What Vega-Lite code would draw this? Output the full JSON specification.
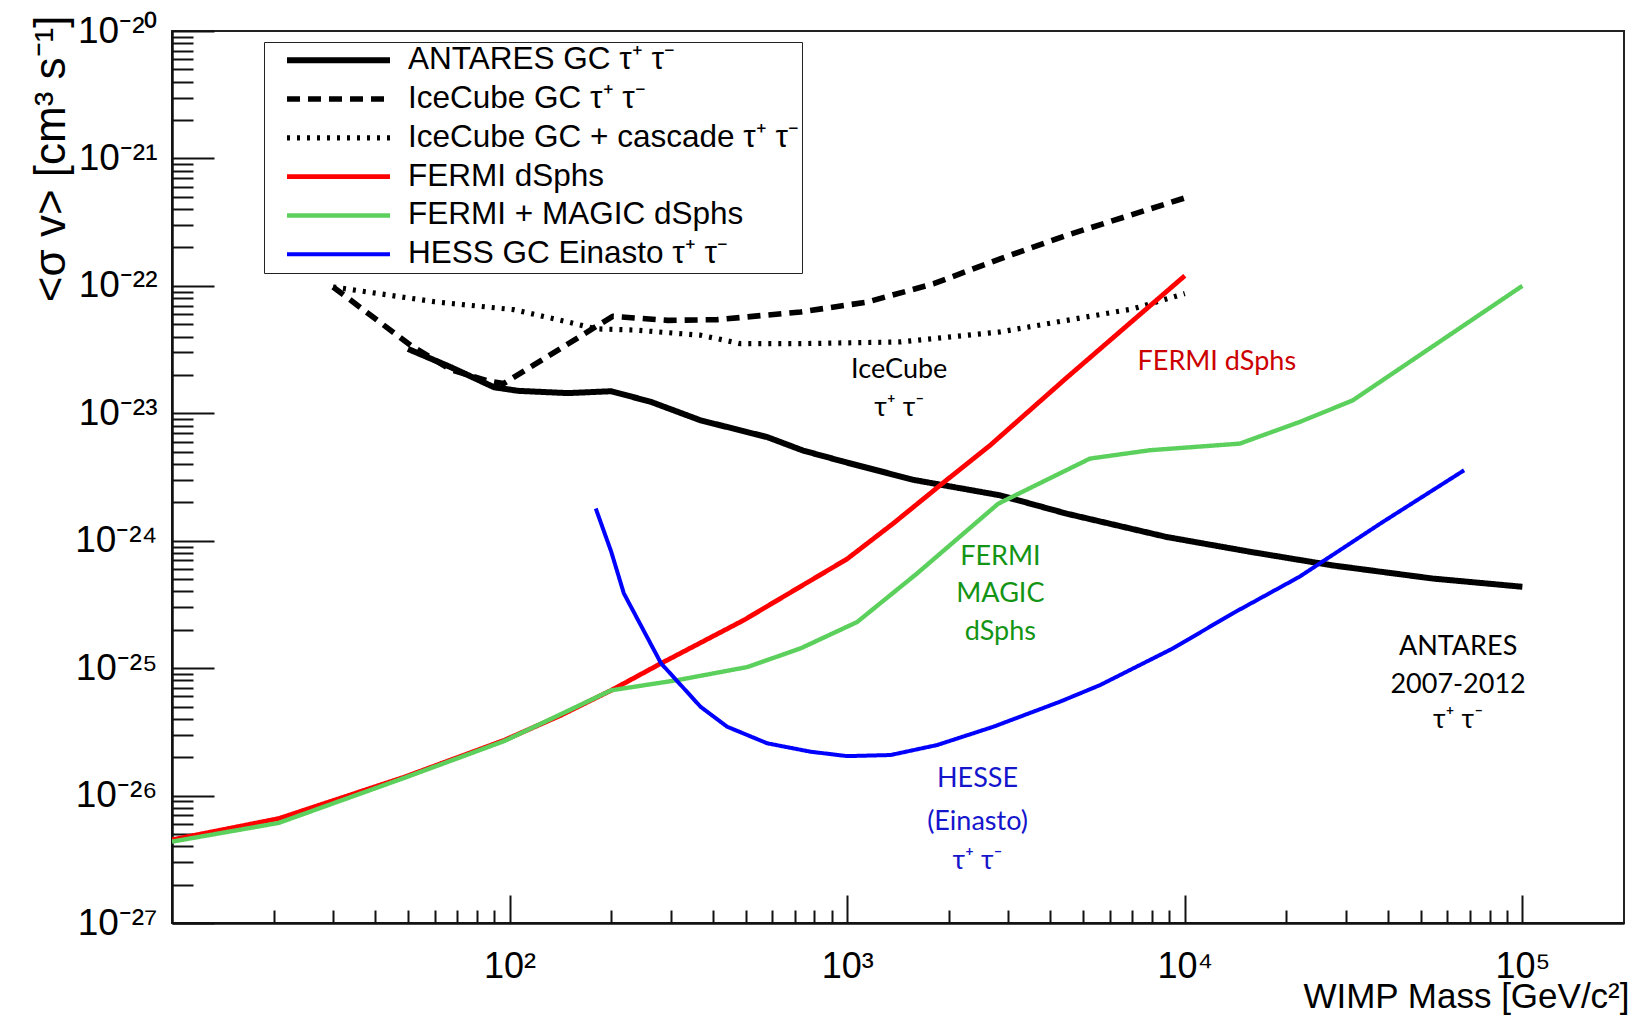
{
  "$schema": "https://vega.github.io/schema/vega-lite/v6.json",
  "width": 1452,
  "height": 892,
  "autosize": {"type": "none"},
  "padding": {"left": 172, "top": 31, "right": 10, "bottom": 92},
  "background": "white",
  "config": {
    "view": {"stroke": "#222", "strokeWidth": 2},
    "axis": {
      "domainColor": "#111", "domainWidth": 2.5, "tickColor": "#111", "tickWidth": 2,
      "labelFont": "Liberation Sans", "labelColor": "black",
      "titleFont": "Liberation Sans", "titleColor": "black", "titleFontWeight": "normal",
      "grid": false, "labelOverlap": false, "labelFlush": false
    },
    "legend": {
      "title": null, "orient": "none", "legendX": 92, "legendY": 11,
      "symbolType": "stroke", "symbolSize": 10609, "clipHeight": 31.5,
      "rowPadding": 5.8, "padding": 2.5, "symbolOffset": 17.5, "labelOffset": 15,
      "labelFont": "Liberation Sans", "labelFontSize": 31.5, "labelColor": "black", "labelLimit": 800,
      "strokeColor": "#222", "fillColor": "white"
    }
  },
  "datasets": {
    "curves": [
      {"series": "ANTARES GC τ⁺ τ⁻", "mass": 50, "sigmav": 3.2e-23},
      {"series": "ANTARES GC τ⁺ τ⁻", "mass": 67, "sigmav": 2.3e-23},
      {"series": "ANTARES GC τ⁺ τ⁻", "mass": 90, "sigmav": 1.6e-23},
      {"series": "ANTARES GC τ⁺ τ⁻", "mass": 106, "sigmav": 1.5e-23},
      {"series": "ANTARES GC τ⁺ τ⁻", "mass": 149, "sigmav": 1.44e-23},
      {"series": "ANTARES GC τ⁺ τ⁻", "mass": 200, "sigmav": 1.49e-23},
      {"series": "ANTARES GC τ⁺ τ⁻", "mass": 262, "sigmav": 1.23e-23},
      {"series": "ANTARES GC τ⁺ τ⁻", "mass": 368, "sigmav": 8.8e-24},
      {"series": "ANTARES GC τ⁺ τ⁻", "mass": 580, "sigmav": 6.5e-24},
      {"series": "ANTARES GC τ⁺ τ⁻", "mass": 740, "sigmav": 5.1e-24},
      {"series": "ANTARES GC τ⁺ τ⁻", "mass": 1000, "sigmav": 4.1e-24},
      {"series": "ANTARES GC τ⁺ τ⁻", "mass": 1575, "sigmav": 3.0e-24},
      {"series": "ANTARES GC τ⁺ τ⁻", "mass": 2838, "sigmav": 2.27e-24},
      {"series": "ANTARES GC τ⁺ τ⁻", "mass": 4470, "sigmav": 1.63e-24},
      {"series": "ANTARES GC τ⁺ τ⁻", "mass": 8830, "sigmav": 1.07e-24},
      {"series": "ANTARES GC τ⁺ τ⁻", "mass": 15560, "sigmav": 8.2e-25},
      {"series": "ANTARES GC τ⁺ τ⁻", "mass": 27430, "sigmav": 6.4e-25},
      {"series": "ANTARES GC τ⁺ τ⁻", "mass": 54200, "sigmav": 5.05e-25},
      {"series": "ANTARES GC τ⁺ τ⁻", "mass": 100000, "sigmav": 4.35e-25},

      {"series": "IceCube GC τ⁺ τ⁻", "mass": 30, "sigmav": 9.8e-23},
      {"series": "IceCube GC τ⁺ τ⁻", "mass": 51, "sigmav": 3.4e-23},
      {"series": "IceCube GC τ⁺ τ⁻", "mass": 67, "sigmav": 2.2e-23},
      {"series": "IceCube GC τ⁺ τ⁻", "mass": 86, "sigmav": 1.8e-23},
      {"series": "IceCube GC τ⁺ τ⁻", "mass": 96, "sigmav": 1.71e-23},
      {"series": "IceCube GC τ⁺ τ⁻", "mass": 202, "sigmav": 5.77e-23},
      {"series": "IceCube GC τ⁺ τ⁻", "mass": 294, "sigmav": 5.36e-23},
      {"series": "IceCube GC τ⁺ τ⁻", "mass": 412, "sigmav": 5.43e-23},
      {"series": "IceCube GC τ⁺ τ⁻", "mass": 728, "sigmav": 6.24e-23},
      {"series": "IceCube GC τ⁺ τ⁻", "mass": 1146, "sigmav": 7.46e-23},
      {"series": "IceCube GC τ⁺ τ⁻", "mass": 1804, "sigmav": 1.04e-22},
      {"series": "IceCube GC τ⁺ τ⁻", "mass": 2838, "sigmav": 1.63e-22},
      {"series": "IceCube GC τ⁺ τ⁻", "mass": 4467, "sigmav": 2.49e-22},
      {"series": "IceCube GC τ⁺ τ⁻", "mass": 10000, "sigmav": 4.9e-22},

      {"series": "IceCube GC + cascade τ⁺ τ⁻", "mass": 30, "sigmav": 9.8e-23},
      {"series": "IceCube GC + cascade τ⁺ τ⁻", "mass": 60, "sigmav": 7.5e-23},
      {"series": "IceCube GC + cascade τ⁺ τ⁻", "mass": 103, "sigmav": 6.5e-23},
      {"series": "IceCube GC + cascade τ⁺ τ⁻", "mass": 149, "sigmav": 5.2e-23},
      {"series": "IceCube GC + cascade τ⁺ τ⁻", "mass": 180, "sigmav": 4.6e-23},
      {"series": "IceCube GC + cascade τ⁺ τ⁻", "mass": 234, "sigmav": 4.5e-23},
      {"series": "IceCube GC + cascade τ⁺ τ⁻", "mass": 368, "sigmav": 4.1e-23},
      {"series": "IceCube GC + cascade τ⁺ τ⁻", "mass": 483, "sigmav": 3.52e-23},
      {"series": "IceCube GC + cascade τ⁺ τ⁻", "mass": 728, "sigmav": 3.52e-23},
      {"series": "IceCube GC + cascade τ⁺ τ⁻", "mass": 1436, "sigmav": 3.63e-23},
      {"series": "IceCube GC + cascade τ⁺ τ⁻", "mass": 2838, "sigmav": 4.35e-23},
      {"series": "IceCube GC + cascade τ⁺ τ⁻", "mass": 4467, "sigmav": 5.36e-23},
      {"series": "IceCube GC + cascade τ⁺ τ⁻", "mass": 7031, "sigmav": 6.6e-23},
      {"series": "IceCube GC + cascade τ⁺ τ⁻", "mass": 10000, "sigmav": 8.7e-23},

      {"series": "FERMI dSphs", "mass": 10, "sigmav": 4.5e-27},
      {"series": "FERMI dSphs", "mass": 20.7, "sigmav": 6.6e-27},
      {"series": "FERMI dSphs", "mass": 48.9, "sigmav": 1.4e-26},
      {"series": "FERMI dSphs", "mass": 96.5, "sigmav": 2.72e-26},
      {"series": "FERMI dSphs", "mass": 142, "sigmav": 4.27e-26},
      {"series": "FERMI dSphs", "mass": 200, "sigmav": 6.7e-26},
      {"series": "FERMI dSphs", "mass": 281, "sigmav": 1.09e-25},
      {"series": "FERMI dSphs", "mass": 494, "sigmav": 2.38e-25},
      {"series": "FERMI dSphs", "mass": 1000, "sigmav": 7.2e-25},
      {"series": "FERMI dSphs", "mass": 1371, "sigmav": 1.37e-24},
      {"series": "FERMI dSphs", "mass": 1972, "sigmav": 3.0e-24},
      {"series": "FERMI dSphs", "mass": 2650, "sigmav": 5.6e-24},
      {"series": "FERMI dSphs", "mass": 4467, "sigmav": 1.9e-23},
      {"series": "FERMI dSphs", "mass": 10000, "sigmav": 1.2e-22},

      {"series": "FERMI + MAGIC dSphs", "mass": 10, "sigmav": 4.35e-27},
      {"series": "FERMI + MAGIC dSphs", "mass": 20.7, "sigmav": 6.1e-27},
      {"series": "FERMI + MAGIC dSphs", "mass": 48.9, "sigmav": 1.38e-26},
      {"series": "FERMI + MAGIC dSphs", "mass": 96.5, "sigmav": 2.68e-26},
      {"series": "FERMI + MAGIC dSphs", "mass": 200, "sigmav": 6.7e-26},
      {"series": "FERMI + MAGIC dSphs", "mass": 314, "sigmav": 8.05e-26},
      {"series": "FERMI + MAGIC dSphs", "mass": 506, "sigmav": 1.02e-25},
      {"series": "FERMI + MAGIC dSphs", "mass": 728, "sigmav": 1.43e-25},
      {"series": "FERMI + MAGIC dSphs", "mass": 1070, "sigmav": 2.3e-25},
      {"series": "FERMI + MAGIC dSphs", "mass": 1610, "sigmav": 5.53e-25},
      {"series": "FERMI + MAGIC dSphs", "mass": 2800, "sigmav": 1.95e-24},
      {"series": "FERMI + MAGIC dSphs", "mass": 5236, "sigmav": 4.41e-24},
      {"series": "FERMI + MAGIC dSphs", "mass": 7880, "sigmav": 5.13e-24},
      {"series": "FERMI + MAGIC dSphs", "mass": 14550, "sigmav": 5.78e-24},
      {"series": "FERMI + MAGIC dSphs", "mass": 21900, "sigmav": 8.55e-24},
      {"series": "FERMI + MAGIC dSphs", "mass": 31400, "sigmav": 1.26e-23},
      {"series": "FERMI + MAGIC dSphs", "mass": 100000, "sigmav": 1.0e-22},

      {"series": "HESS GC Einasto τ⁺ τ⁻", "mass": 180, "sigmav": 1.79e-24},
      {"series": "HESS GC Einasto τ⁺ τ⁻", "mass": 200, "sigmav": 8.2e-25},
      {"series": "HESS GC Einasto τ⁺ τ⁻", "mass": 218, "sigmav": 3.86e-25},
      {"series": "HESS GC Einasto τ⁺ τ⁻", "mass": 281, "sigmav": 1.09e-25},
      {"series": "HESS GC Einasto τ⁺ τ⁻", "mass": 368, "sigmav": 4.97e-26},
      {"series": "HESS GC Einasto τ⁺ τ⁻", "mass": 441, "sigmav": 3.47e-26},
      {"series": "HESS GC Einasto τ⁺ τ⁻", "mass": 580, "sigmav": 2.57e-26},
      {"series": "HESS GC Einasto τ⁺ τ⁻", "mass": 778, "sigmav": 2.21e-26},
      {"series": "HESS GC Einasto τ⁺ τ⁻", "mass": 1000, "sigmav": 2.04e-26},
      {"series": "HESS GC Einasto τ⁺ τ⁻", "mass": 1343, "sigmav": 2.08e-26},
      {"series": "HESS GC Einasto τ⁺ τ⁻", "mass": 1845, "sigmav": 2.49e-26},
      {"series": "HESS GC Einasto τ⁺ τ⁻", "mass": 2712, "sigmav": 3.47e-26},
      {"series": "HESS GC Einasto τ⁺ τ⁻", "mass": 4266, "sigmav": 5.45e-26},
      {"series": "HESS GC Einasto τ⁺ τ⁻", "mass": 5610, "sigmav": 7.36e-26},
      {"series": "HESS GC Einasto τ⁺ τ⁻", "mass": 9230, "sigmav": 1.43e-25},
      {"series": "HESS GC Einasto τ⁺ τ⁻", "mass": 13870, "sigmav": 2.69e-25},
      {"series": "HESS GC Einasto τ⁺ τ⁻", "mass": 21830, "sigmav": 5.2e-25},
      {"series": "HESS GC Einasto τ⁺ τ⁻", "mass": 38550, "sigmav": 1.4e-24},
      {"series": "HESS GC Einasto τ⁺ τ⁻", "mass": 67200, "sigmav": 3.57e-24}
    ],
    "notes": [
      {"group": "ice", "label": "IceCube", "mass": 1426, "sigmav": 2.17e-23},
      {"group": "ice", "label": "τ⁺ τ⁻", "mass": 1426, "sigmav": 1.11e-23},
      {"group": "fermi", "label": "FERMI dSphs", "mass": 12440, "sigmav": 2.53e-23},
      {"group": "magic", "label": "FERMI", "mass": 2843, "sigmav": 7.5e-25},
      {"group": "magic", "label": "MAGIC", "mass": 2843, "sigmav": 3.8e-25},
      {"group": "magic", "label": "dSphs", "mass": 2843, "sigmav": 1.93e-25},
      {"group": "hess", "label": "HESSE", "mass": 2432, "sigmav": 1.36e-26},
      {"group": "hess", "label": "(Einasto)", "mass": 2432, "sigmav": 6.18e-27},
      {"group": "hess", "label": "τ⁺ τ⁻", "mass": 2432, "sigmav": 3.08e-27},
      {"group": "antares", "label": "ANTARES", "mass": 64500, "sigmav": 1.47e-25},
      {"group": "antares", "label": "2007-2012", "mass": 64500, "sigmav": 7.36e-26},
      {"group": "antares", "label": "τ⁺ τ⁻", "mass": 64500, "sigmav": 3.91e-26}
    ]
  },
  "layer": [
    {
      "data": {"name": "curves"},
      "mark": {"type": "line", "strokeCap": "butt", "strokeJoin": "round", "clip": true},
      "encoding": {
        "x": {
          "field": "mass", "type": "quantitative",
          "scale": {"type": "log", "domain": [10, 200000], "nice": false},
          "axis": {
            "title": "WIMP Mass [GeV/c²]",
            "values": [20, 30, 40, 50, 60, 70, 80, 90, 100, 200, 300, 400, 500, 600, 700, 800, 900, 1000, 2000, 3000, 4000, 5000, 6000, 7000, 8000, 9000, 10000, 20000, 30000, 40000, 50000, 60000, 70000, 80000, 90000, 100000],
            "tickSize": {"condition": {"test": "abs(log(datum.value)/LN10 - round(log(datum.value)/LN10)) < 0.001", "value": -28}, "value": -13},
            "labelExpr": "abs(log(datum.value)/LN10 - round(log(datum.value)/LN10)) < 0.001 ? ['10²','10³','10⁴','10⁵'][round(log(datum.value)/LN10) - 2] : ''",
            "labelFontSize": 36,
            "labelPadding": 54,
            "labelBaseline": "top",
            "titleFontSize": 35,
            "titleAnchor": "end",
            "titleAlign": "right",
            "titleBaseline": "alphabetic",
            "titleX": 1457,
            "titleY": 84
          }
        },
        "y": {
          "field": "sigmav", "type": "quantitative",
          "scale": {"type": "log", "domain": [1e-27, 1e-20], "nice": false},
          "axis": {
            "title": "<σ v> [cm³ s⁻¹]",
            "values": [1e-27, 2e-27, 3e-27, 4e-27, 5e-27, 6e-27, 7e-27, 8e-27, 9e-27, 1e-26, 2e-26, 3e-26, 4e-26, 5e-26, 6e-26, 7e-26, 8e-26, 9e-26, 1e-25, 2e-25, 3e-25, 4e-25, 5e-25, 6e-25, 7e-25, 8e-25, 9e-25, 1e-24, 2e-24, 3e-24, 4e-24, 5e-24, 6e-24, 7e-24, 8e-24, 9e-24, 1e-23, 2e-23, 3e-23, 4e-23, 5e-23, 6e-23, 7e-23, 8e-23, 9e-23, 1e-22, 2e-22, 3e-22, 4e-22, 5e-22, 6e-22, 7e-22, 8e-22, 9e-22, 1e-21, 2e-21, 3e-21, 4e-21, 5e-21, 6e-21, 7e-21, 8e-21, 9e-21, 1e-20],
            "tickSize": {"condition": {"test": "abs(log(datum.value)/LN10 - round(log(datum.value)/LN10)) < 0.001", "value": -42}, "value": -21},
            "labelExpr": "abs(log(datum.value)/LN10 - round(log(datum.value)/LN10)) < 0.001 ? ['10⁻²⁷','10⁻²⁶','10⁻²⁵','10⁻²⁴','10⁻²³','10⁻²²','10⁻²¹','10⁻²⁰'][round(log(datum.value)/LN10) + 27] : ''",
            "labelFontSize": 37,
            "labelPadding": 57,
            "titleFontSize": 44,
            "titleAngle": -90,
            "titleAnchor": "end",
            "titleAlign": "right",
            "titleBaseline": "alphabetic",
            "titleX": -108,
            "titleY": -16
          }
        },
        "color": {
          "field": "series", "type": "nominal",
          "scale": {
            "domain": ["ANTARES GC τ⁺ τ⁻", "IceCube GC τ⁺ τ⁻", "IceCube GC + cascade τ⁺ τ⁻", "FERMI dSphs", "FERMI + MAGIC dSphs", "HESS GC Einasto τ⁺ τ⁻"],
            "range": ["#000000", "#000000", "#000000", "#ff0000", "#5cd05c", "#0000ff"]
          },
          "legend": {"title": null, "labelExpr": "datum.label + '\u00a0\u00a0\u00a0\u00a0\u00a0'"}
        },
        "strokeDash": {
          "field": "series", "type": "nominal",
          "scale": {
            "domain": ["ANTARES GC τ⁺ τ⁻", "IceCube GC τ⁺ τ⁻", "IceCube GC + cascade τ⁺ τ⁻", "FERMI dSphs", "FERMI + MAGIC dSphs", "HESS GC Einasto τ⁺ τ⁻"],
            "range": [[1, 0], [13, 8], [3, 7], [1, 0], [1, 0], [1, 0]]
          },
          "legend": {"title": null, "labelExpr": "datum.label + '\u00a0\u00a0\u00a0\u00a0\u00a0'"}
        },
        "strokeWidth": {
          "field": "series", "type": "nominal",
          "scale": {
            "domain": ["ANTARES GC τ⁺ τ⁻", "IceCube GC τ⁺ τ⁻", "IceCube GC + cascade τ⁺ τ⁻", "FERMI dSphs", "FERMI + MAGIC dSphs", "HESS GC Einasto τ⁺ τ⁻"],
            "range": [6, 4, 3.5, 3.5, 3.5, 3.5]
          },
          "legend": {"title": null, "labelExpr": "datum.label + '\u00a0\u00a0\u00a0\u00a0\u00a0'"}
        }
      }
    },
    {
      "data": {"name": "notes"},
      "transform": [{"filter": "datum.group === 'ice' || datum.group === 'antares'"}],
      "mark": {"type": "text", "font": "Lato", "fontSize": 27, "color": "#000000", "align": "center", "baseline": "middle"},
      "encoding": {
        "x": {"field": "mass", "type": "quantitative"},
        "y": {"field": "sigmav", "type": "quantitative"},
        "text": {"field": "label"}
      }
    },
    {
      "data": {"name": "notes"},
      "transform": [{"filter": "datum.group === 'fermi'"}],
      "mark": {"type": "text", "font": "Lato", "fontSize": 27, "color": "#cc0000", "align": "center", "baseline": "middle"},
      "encoding": {
        "x": {"field": "mass", "type": "quantitative"},
        "y": {"field": "sigmav", "type": "quantitative"},
        "text": {"field": "label"}
      }
    },
    {
      "data": {"name": "notes"},
      "transform": [{"filter": "datum.group === 'magic'"}],
      "mark": {"type": "text", "font": "Lato", "fontSize": 27, "color": "#149414", "align": "center", "baseline": "middle"},
      "encoding": {
        "x": {"field": "mass", "type": "quantitative"},
        "y": {"field": "sigmav", "type": "quantitative"},
        "text": {"field": "label"}
      }
    },
    {
      "data": {"name": "notes"},
      "transform": [{"filter": "datum.group === 'hess'"}],
      "mark": {"type": "text", "font": "Lato", "fontSize": 27, "color": "#1515cc", "align": "center", "baseline": "middle"},
      "encoding": {
        "x": {"field": "mass", "type": "quantitative"},
        "y": {"field": "sigmav", "type": "quantitative"},
        "text": {"field": "label"}
      }
    }
  ]
}
